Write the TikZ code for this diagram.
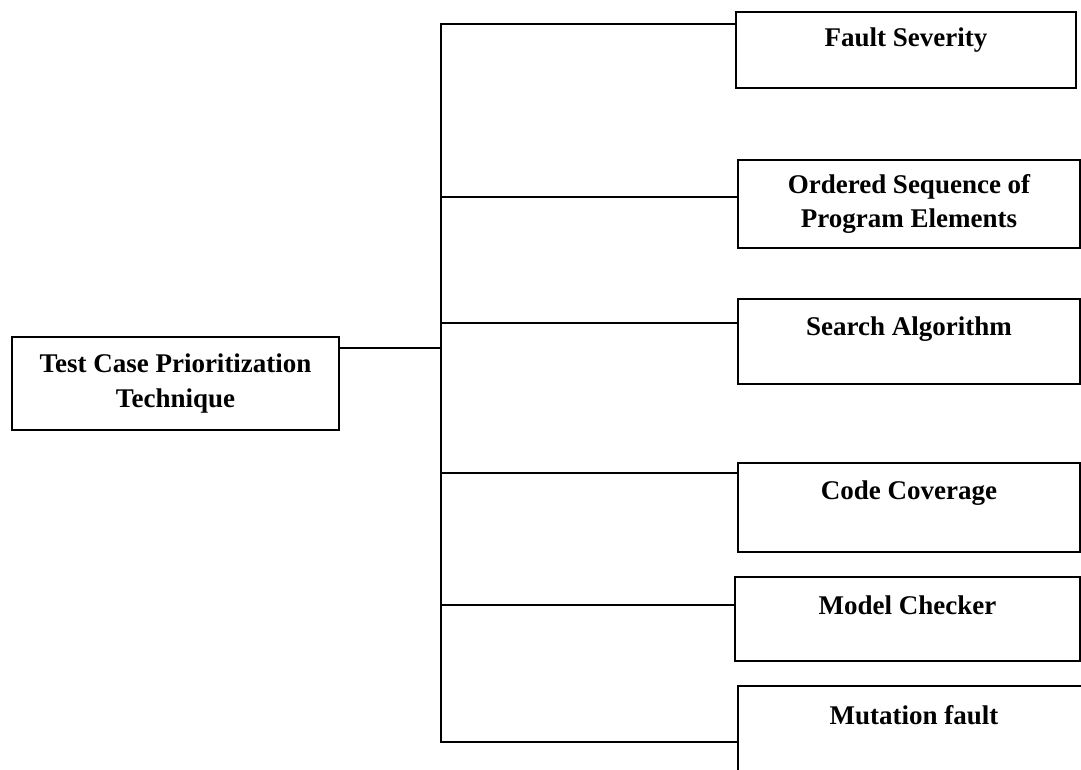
\documentclass[tikz,border=0pt]{standalone}
\usepackage{fontspec}
\setmainfont{Liberation Serif}

\begin{document}
\begin{tikzpicture}[x=1pt, y=-1pt,
    leaf/.style={rectangle, draw=black, line width=1.5pt, align=center, inner sep=0pt, font=\fontsize{27}{34.5}\selectfont\bfseries},
    link/.style={draw=black, line width=1.5pt}]
    \useasboundingbox (0,0) rectangle (1081,769);

    \node [leaf, minimum width=327pt, minimum height=93pt] (root) at (175.5,383.5) {Test Case Prioritization\\Technique};
    \node [leaf, minimum width=340pt, minimum height=76pt] (fault) at (906,50) {Fault Severity\\[-8pt]\mbox{}};
    \node [leaf, minimum width=342pt, minimum height=88pt] (order) at (909,204) {Ordered Sequence of\\Program Elements};
    \node [leaf, minimum width=342pt, minimum height=85pt] (search) at (909,341.5) {Search Algorithm\\[-4pt]\mbox{}};
    \node [leaf, minimum width=342pt, minimum height=89pt] (code) at (909,507.5) {Code Coverage\\\mbox{}};
    \node [leaf, minimum width=345pt, minimum height=84pt] (model) at (907.5,619) {Model Checker\\[-6pt]\mbox{}};
    \node [leaf, minimum width=352pt, minimum height=88pt] (mutation) at (914,730) {Mutation fault\\[-4pt]\mbox{}};

    % trunk junctions
    \coordinate (jfault) at (441,24);
    \coordinate (jorder) at (441,197);
    \coordinate (jsearch) at (441,323);
    \coordinate (jroot) at (441,348);
    \coordinate (jcode) at (441,473);
    \coordinate (jmodel) at (441,605);
    \coordinate (jmutation) at (441,742);

    \draw [link] (jfault -| fault.west) -- (jfault) -- (jmutation) -- (jmutation -| mutation.west);
    \draw [link] (jroot -| root.east) -- (jroot);
    \draw [link] (jorder) -- (jorder -| order.west);
    \draw [link] (jsearch) -- (jsearch -| search.west);
    \draw [link] (jcode) -- (jcode -| code.west);
    \draw [link] (jmodel) -- (jmodel -| model.west);
\end{tikzpicture}
\end{document}
